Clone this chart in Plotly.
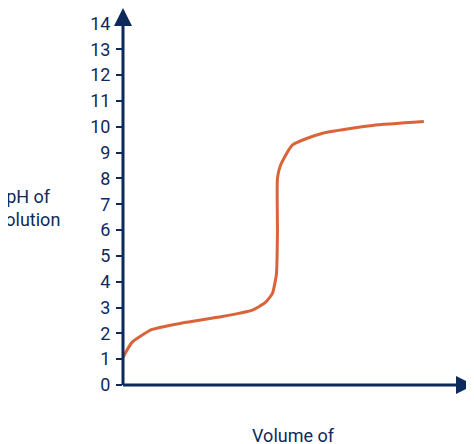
import plotly.graph_objects as go

vol = [0, 0.9, 2.9, 5.9, 9.9, 12.9, 14.2, 14.9, 15.3, 15.4, 15.4, 15.7, 16.9, 19.9, 24.9, 30.0]
ph = [1.07, 1.65, 2.15, 2.4, 2.65, 2.9, 3.2, 3.55, 4.3, 5.9, 8.0, 8.5, 9.3, 9.75, 10.05, 10.2]
yticks = list(range(0, 15))
navy = "#0d2a5c"
fig = go.Figure(go.Scatter(x=vol, y=ph, mode="lines",
    line=dict(color="#d9643a", width=3, shape="spline", smoothing=0.5)))
fig.update_layout(width=474, height=444, margin=dict(l=115, r=8, t=0, b=67),
    plot_bgcolor="white", paper_bgcolor="white", showlegend=False,
    font=dict(family="Roboto", color=navy, size=17))
fig.update_xaxes(range=[0, 35], showgrid=False, zeroline=False, showticklabels=False)
fig.update_yaxes(range=[0, 14.6], showgrid=False, zeroline=False, tickvals=yticks,
    ticks="outside", ticklen=6, tickwidth=2, tickcolor=navy, ticklabelstandoff=2,
    tickfont=dict(size=18, color=navy))
fig.add_annotation(x=35, y=0, ax=-0.15, ay=0, xref="x", yref="y", axref="x", ayref="y",
    showarrow=True, arrowhead=2, arrowsize=1.2, arrowwidth=3, arrowcolor=navy, text="")
fig.add_annotation(x=0, y=14.6, ax=0, ay=-0.06, xref="x", yref="y", axref="x", ayref="y",
    showarrow=True, arrowhead=2, arrowsize=1.2, arrowwidth=3, arrowcolor=navy, text="")
fig.add_annotation(x=-0.27, y=0.47, xref="paper", yref="paper", text="pH of<br>solution",
    showarrow=False, font=dict(size=18), xanchor="center", yanchor="middle")
fig.add_annotation(x=0.485, y=-0.1, xref="paper", yref="paper", text="Volume of<br>alkali added",
    showarrow=False, font=dict(size=18), xanchor="center", yanchor="top")
fig.write_html("out.html")
